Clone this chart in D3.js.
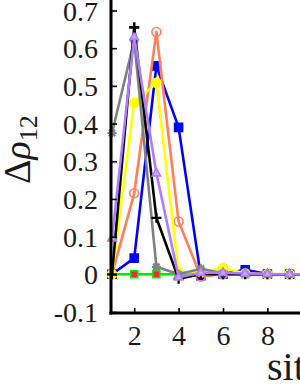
<!DOCTYPE html>
<html lang="en">
<head>
<meta charset="UTF-8">
<title>delta rho 12</title>
<script src="https://cdn.jsdelivr.net/npm/d3@7"></script>
<style>
  body { margin: 0; background: #fff; overflow: hidden; }
  svg { display: block; }
</style>
</head>
<body>
<script>
const sites = [1, 2, 3, 4, 5, 6, 7, 8, 9, 10];
const xTicks = [2, 4, 6, 8];
const yTicks = [-0.1, 0, 0.1, 0.2, 0.3, 0.4, 0.5, 0.6, 0.7];
const yLabels = ['-0.1', '0', '0.1', '0.2', '0.3', '0.4', '0.5', '0.6', '0.7'];

const greenVals  = [0, 0, 0, 0, 0, 0, 0, 0, 0, 0];
const blueVals   = [0, 0.043, 0.553, 0.39, -0.004, 0.001, 0.012, 0.001, 0, 0];
const coralVals  = [0, 0.215, 0.643, 0.14, -0.006, 0.0, 0.002, 0, 0, 0];
const yellowVals = [0, 0.455, 0.508, 0.005, 0.006, 0.017, 0.002, 0, 0, 0];
const grayVals   = [0.375, 0.62, 0.02, 0.0, 0.015, 0.003, 0, 0, 0, 0];
const purpleVals = [0.095, 0.63, 0.268, -0.008, 0.004, 0.004, 0.002, 0.001, 0, 0];
const blackVals  = [0, 0.655, 0.15, -0.012, 0, 0, 0, 0, 0, 0];

const width = 300, height = 388;
const serif = 'Liberation Serif';

const svg = d3.select('body').append('svg')
  .attr('width', width)
  .attr('height', height);

const x = d3.scaleLinear().domain([1, 12]).range([112, 112 + 11 * 22.2]);
const y = d3.scaleLinear().domain([-0.1, 0.7]).range([312, 10.5]);

// marker paths
const mk = {
  square: s => `M${-s},${-s}h${2*s}v${2*s}h${-2*s}Z`,
  circle: s => `M${s},0A${s},${s} 0 1,1 ${-s},0A${s},${s} 0 1,1 ${s},0Z`,
  tri: s => `M0,${-s*1.15}L${s},${s*0.6}L${-s},${s*0.6}Z`,
  plus: s => `M${-s},0H${s}M0,${-s}V${s}`,
  star: s => `M${-s},0H${s}M0,${-s}V${s}M${-s*0.7},${-s*0.7}L${s*0.7},${s*0.7}M${-s*0.7},${s*0.7}L${s*0.7},${-s*0.7}`
};

const series = [
  { vals: greenVals,  color: '#00ee00', marker: 'square', size: 3.5, fill: '#e83030' },
  { vals: blueVals,   color: '#0000ff', marker: 'square', size: 4,   fill: '#0000ff' },
  { vals: coralVals,  color: '#ff7f5a', marker: 'circle', size: 4.5, fill: 'none' },
  { vals: yellowVals, color: '#ffff00', marker: 'circle', size: 4.5, fill: '#ffff00' },
  { vals: grayVals,   color: '#808080', marker: 'star',   size: 4.5, fill: 'none' },
  { vals: blackVals,  color: '#000000', marker: 'plus',   size: 5,   fill: 'none' },
  { vals: purpleVals, color: '#b07cff', marker: 'tri',    size: 4.2, fill: '#c9a6ff' }
];

const line = d3.line()
  .x((d, i) => x(sites[i]))
  .y(d => y(d));

series.forEach(s => {
  const g = svg.append('g');
  g.append('path')
    .datum(s.vals)
    .attr('d', line)
    .attr('fill', 'none')
    .attr('stroke', s.color)
    .attr('stroke-width', 2.6)
    .attr('stroke-linejoin', 'round');
  g.selectAll('path.m')
    .data(s.vals)
    .enter()
    .append('path')
    .attr('class', 'm')
    .attr('transform', (d, i) => `translate(${x(sites[i])},${y(d)})`)
    .attr('d', mk[s.marker](s.size))
    .attr('fill', s.fill)
    .attr('stroke', s.color)
    .attr('stroke-width', s.marker === 'plus' || s.marker === 'star' ? 2.2 : 1.6);
});

// black peak marker sits above the purple triangle
svg.append('path')
  .attr('transform', `translate(${x(sites[1])},${y(blackVals[1])})`)
  .attr('d', mk.plus(5))
  .attr('stroke', '#000')
  .attr('stroke-width', 2.2);

// axes
const xAxis = d3.axisBottom(x).tickValues(xTicks).tickSizeInner(-5).tickSizeOuter(0).tickPadding(12);
const yAxis = d3.axisLeft(y).tickValues(yTicks).tickSizeInner(-6).tickSizeOuter(0).tickPadding(13)
  .tickFormat((d, i) => yLabels[i]);

const gx = svg.append('g')
  .attr('transform', `translate(0,${y(-0.1) + 1})`)
  .call(xAxis);
const gy = svg.append('g')
  .attr('transform', `translate(${x(1) - 1},0)`)
  .call(yAxis);

[gx, gy].forEach(g => {
  g.attr('font-family', serif).attr('font-size', 28);
  g.select('.domain').attr('stroke', '#000').attr('stroke-width', 3);
  g.selectAll('.tick line').attr('stroke', '#000').attr('stroke-width', 1.6);
  g.selectAll('.tick text').attr('fill', '#1a1a1a');
});
gy.select('.domain').attr('d', `M0,${y(-0.1) + 2.5}V-20`);
gx.select('.domain').attr('d', `M${x(1) - 2.5},0H400`);
gx.selectAll('.tick text').attr('dy', '0.71em');
gy.selectAll('.tick text').attr('dy', '0.34em');

// axis titles
svg.append('text')
  .attr('x', 267)
  .attr('y', 380)
  .attr('font-family', serif)
  .attr('font-size', 40)
  .attr('fill', '#1a1a1a')
  .text('site');

const yl = svg.append('text')
  .attr('transform', 'translate(30,184) rotate(-90)')
  .attr('font-family', serif)
  .attr('font-size', 38)
  .attr('fill', '#1a1a1a');
yl.append('tspan').text('Δ');
yl.append('tspan').attr('font-style', 'italic').text('ρ');
yl.append('tspan').attr('dy', 7).attr('font-size', 26).text('12');
</script>
</body>
</html>
